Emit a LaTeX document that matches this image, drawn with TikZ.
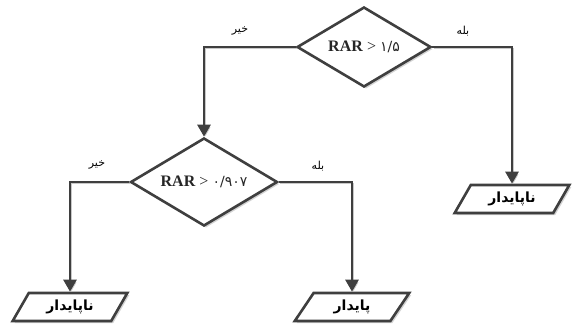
\documentclass[tikz,border=0pt]{standalone}
\usepackage{fontspec}
\setmainfont{Liberation Serif}
\newfontfamily\fa[Script=Arabic]{DejaVu Sans}
\TeXXeTstate=1
\usetikzlibrary{shapes.geometric,arrows.meta,shadows}

\definecolor{linegray}{HTML}{3F3F3F}
\definecolor{shadegray}{HTML}{C8C8C8}

\tikzset{
  softshadow/.style={drop shadow={shadow xshift=2pt, shadow yshift=-2pt, fill=shadegray, opacity=.8}},
  decision/.style={diamond, draw=linegray, line width=2.6pt, fill=white, inner sep=0pt,
    softshadow},
  outbox/.style={trapezium, trapezium left angle=61, trapezium right angle=119,
    trapezium stretches=true, draw=linegray, line width=2.6pt, fill=white,
    minimum width=115pt, minimum height=28pt, inner sep=2pt, softshadow,
    font=\fa\bfseries\fontsize{14}{16}\selectfont},
  condtext/.style={font=\fontsize{16}{18}\selectfont, text=black!85, inner sep=0pt},
  digits/.style={font=\fa\fontsize{14}{16}\selectfont},
  branchtext/.style={font=\fa\fontsize{11}{13}\selectfont, inner sep=0pt},
  flow/.style={draw=linegray, line width=2.6pt,
    -{Triangle[width=13pt,length=12pt]},
    preaction={draw=shadegray, transform canvas={xshift=1.5pt,yshift=-1.5pt}}},
}

\begin{document}
\begin{tikzpicture}[x=1pt,y=-1pt]
\useasboundingbox (0,0) rectangle (573,334);

% decisions
\node[decision, minimum width=134pt, minimum height=80pt, shape aspect=1.67] (d1) at (364,47) {};
\node[condtext] (c1) at (d1.center) {\textbf{RAR} > {\fa\fontsize{14}{16}\selectfont ۱/۵}};

\node[decision, minimum width=147pt, minimum height=88pt, shape aspect=1.67] (d2) at (204,182) {};
\node[condtext] (c2) at (d2.center) {\textbf{RAR} > {\fa\fontsize{14}{16}\selectfont ۰/۹۰۷}};

% outcomes
\node[outbox] (p1) at (512,199) {\beginR ناپایدار\endR};
\node[outbox] (p2) at (70,307) {\beginR ناپایدار\endR};
\node[outbox] (p3) at (352,307) {\beginR پایدار\endR};

% connectors
\draw[flow] (d1.west) -| (d2.north);
\draw[flow] (d1.east) -| (p1.north);
\draw[flow] (d2.west) -| (p2.north);
\draw[flow] (d2.east) -| (p3.north);

% branch labels
\node[branchtext] (n1) at (240,31) {\beginR خیر\endR};
\node[branchtext] (y1) at (463,31) {\beginR بله\endR};
\node[branchtext] (n2) at (97,165) {\beginR خیر\endR};
\node[branchtext] (y2) at (318,166) {\beginR بله\endR};
\end{tikzpicture}
\end{document}
